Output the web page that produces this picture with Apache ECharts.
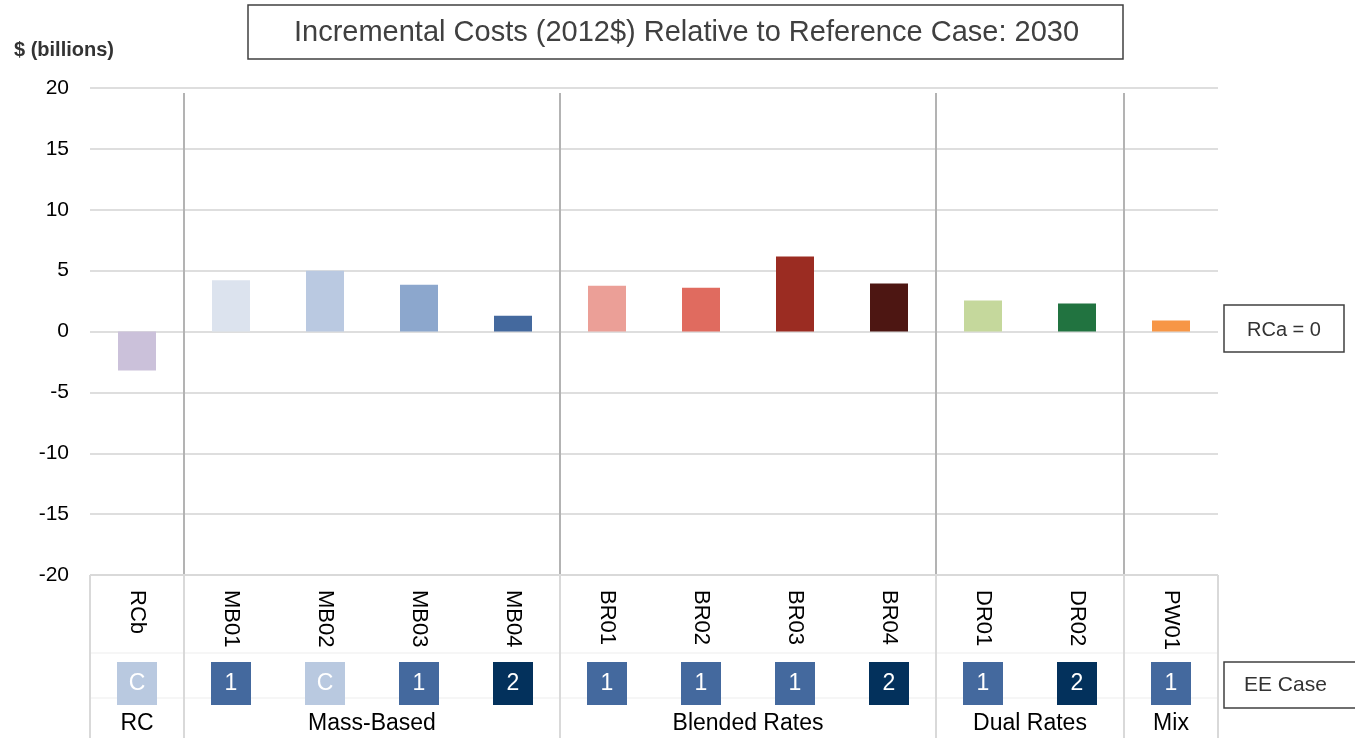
<!DOCTYPE html>
<html>
<head>
<meta charset="utf-8">
<script src="https://cdn.jsdelivr.net/npm/echarts@6/dist/echarts.min.js"></script>
<style>
html,body{margin:0;padding:0;background:#fff;}
#main{width:1355px;height:738px;}
</style>
</head>
<body>
<div id="main"></div>
<script>
const categories = ['RCb','MB01','MB02','MB03','MB04','BR01','BR02','BR03','BR04','DR01','DR02','PW01'];
const values = [-3.2, 4.2, 5.0, 3.85, 1.3, 3.75, 3.6, 6.15, 3.95, 2.55, 2.3, 0.9];
const eeCases = ['C','1','C','1','2','1','1','1','2','1','2','1'];
const groupNames = ['RC','Mass-Based','Blended Rates','Dual Rates','Mix'];
const groupSizes = [1,4,4,2,1];
const yMin = -20, yMax = 20, yStep = 5;
const titleText = 'Incremental Costs (2012$) Relative to Reference Case: 2030';
const yAxisTitle = '$ (billions)';
const refNote = 'RCa = 0';
const eeLabel = 'EE Case';

const barColors = ['#cbc1da','#dce3ee','#bac9e1','#8ca7cd','#44699e','#eb9f97','#e06b5f','#9b2c22','#4d1612','#c5d89c','#217340','#f79646'];
const eeColors = {'C':'#b9c9e0','1':'#44699e','2':'#03315c'};
const FONT = '"Liberation Sans", Arial, sans-serif';

const chart = echarts.init(document.getElementById('main'), null, {renderer:'canvas'});

const option = {
  animation: false,
  backgroundColor: '#fff',
  grid: {left: 90, right: 137, top: 88, bottom: 163, containLabel: false},
  xAxis: {
    type: 'category',
    data: categories,
    axisLine: {show: false},
    axisTick: {show: false},
    axisLabel: {rotate: -90, fontSize: 22, color: '#000', margin: 15, fontFamily: FONT}
  },
  yAxis: {
    type: 'value',
    min: yMin, max: yMax, interval: yStep,
    axisLine: {show: false},
    axisTick: {show: false},
    axisLabel: {fontSize: 21, color: '#000', margin: 21, fontFamily: FONT},
    splitLine: {lineStyle: {color: '#dedede', width: 2}}
  },
  series: [{
    type: 'bar',
    barWidth: 38,
    data: values.map((v, i) => ({value: v, itemStyle: {color: barColors[i]}})),
    z: 3
  }]
};
chart.setOption(option);

function buildGraphics() {
  const cx = categories.map(c => chart.convertToPixel({xAxisIndex: 0}, c));
  const band = cx[1] - cx[0];
  const yTop = chart.convertToPixel({yAxisIndex: 0}, yMax);
  const yBot = chart.convertToPixel({yAxisIndex: 0}, yMin);
  const yZero = chart.convertToPixel({yAxisIndex: 0}, 0);
  const left = cx[0] - band / 2;
  const right = cx[cx.length - 1] + band / 2;
  const H = 738;
  const g = [];

  // title box
  g.push({type: 'rect', shape: {x: 248, y: 5, width: 875, height: 54},
    style: {fill: '#fff', stroke: '#404040', lineWidth: 1.5}, z: 10});
  g.push({type: 'text', x: (248 + 1123) / 2 + 1, y: 33,
    style: {text: titleText, font: '29px ' + FONT, fill: '#404040', align: 'center', verticalAlign: 'middle'}, z: 11});
  // y axis title
  g.push({type: 'text', x: 14, y: 50,
    style: {text: yAxisTitle, font: 'bold 20px ' + FONT, fill: '#333', align: 'left', verticalAlign: 'middle'}, z: 11});

  // table frame
  const lineStyleLight = {stroke: '#d9d9d9', lineWidth: 2};
  g.push({type: 'line', shape: {x1: left, y1: yBot, x2: right, y2: yBot}, style: lineStyleLight, z: 5});
  g.push({type: 'line', shape: {x1: left, y1: yBot, x2: left, y2: H}, style: lineStyleLight, z: 5});
  g.push({type: 'line', shape: {x1: right, y1: yBot, x2: right, y2: H}, style: lineStyleLight, z: 5});
  // faint inner horizontal lines
  [yBot + 78, yBot + 123].forEach(y => {
    g.push({type: 'line', shape: {x1: left, y1: y, x2: right, y2: y}, style: {stroke: '#f3f3f3', lineWidth: 1.5}, z: 4});
  });

  // group dividers and labels
  let idx = 0;
  groupSizes.forEach((n, gi) => {
    const first = idx, last = idx + n - 1;
    if (gi > 0) {
      const bx = cx[first] - band / 2;
      g.push({type: 'line', shape: {x1: bx, y1: yTop + 5, x2: bx, y2: yBot}, style: {stroke: '#b3b3b3', lineWidth: 2}, z: 4});
      g.push({type: 'line', shape: {x1: bx, y1: yBot, x2: bx, y2: H}, style: lineStyleLight, z: 4});
    }
    g.push({type: 'text', x: (cx[first] + cx[last]) / 2, y: yBot + 149,
      style: {text: groupNames[gi], font: '23px ' + FONT, fill: '#000', align: 'center', verticalAlign: 'middle'}, z: 11});
    idx += n;
  });

  // EE case squares
  eeCases.forEach((e, i) => {
    g.push({type: 'rect', shape: {x: cx[i] - 20, y: yBot + 87, width: 40, height: 43},
      style: {fill: eeColors[e]}, z: 6});
    g.push({type: 'text', x: cx[i], y: yBot + 109,
      style: {text: e, font: '23px ' + FONT, fill: '#fff', align: 'center', verticalAlign: 'middle'}, z: 7});
  });

  // side boxes
  g.push({type: 'rect', shape: {x: 1224, y: 305, width: 120, height: 47},
    style: {fill: '#fff', stroke: '#404040', lineWidth: 1.5}, z: 10});
  g.push({type: 'text', x: 1284, y: yZero - 1,
    style: {text: refNote, font: '20px ' + FONT, fill: '#333', align: 'center', verticalAlign: 'middle'}, z: 11});
  g.push({type: 'rect', shape: {x: 1224, y: yBot + 87, width: 140, height: 46},
    style: {fill: '#fff', stroke: '#404040', lineWidth: 1.5}, z: 10});
  g.push({type: 'text', x: 1244, y: yBot + 110,
    style: {text: eeLabel, font: '21px ' + FONT, fill: '#333', align: 'left', verticalAlign: 'middle'}, z: 11});

  chart.setOption({graphic: {elements: g}});
}
buildGraphics();
</script>
</body>
</html>
